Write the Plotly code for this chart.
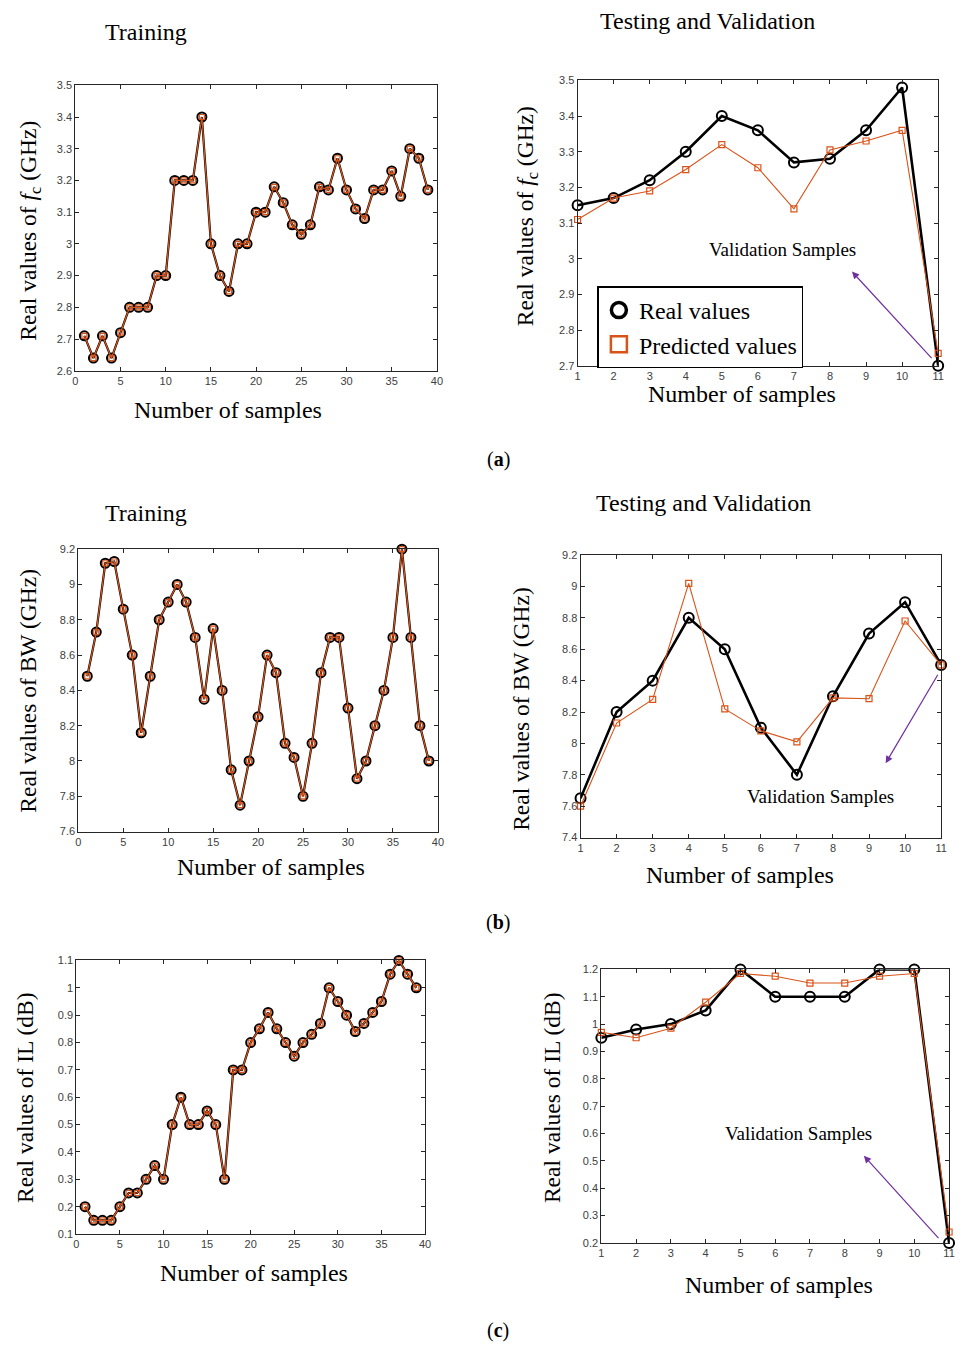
import plotly.graph_objects as go

W, H = 962, 1353

# ---------------- data ----------------
train_x = list(range(1, 40))
test_x = list(range(1, 12))

fc_train = [2.71, 2.64, 2.71, 2.64, 2.72, 2.80, 2.80, 2.80, 2.90, 2.90,
            3.20, 3.20, 3.20, 3.40, 3.00, 2.90, 2.85, 3.00, 3.00, 3.10,
            3.10, 3.18, 3.13, 3.06, 3.03, 3.06, 3.18, 3.17, 3.27, 3.17,
            3.11, 3.08, 3.17, 3.17, 3.23, 3.15, 3.30, 3.27, 3.17]
fc_test_real = [3.15, 3.17, 3.22, 3.30, 3.40, 3.36, 3.27, 3.28, 3.36, 3.48, 2.70]
fc_test_pred = [3.11, 3.17, 3.19, 3.25, 3.32, 3.255, 3.14, 3.305, 3.33, 3.36, 2.735]

bw_train = [8.48, 8.73, 9.12, 9.13, 8.86, 8.60, 8.16, 8.48, 8.80, 8.90,
            9.00, 8.90, 8.70, 8.35, 8.75, 8.40, 7.95, 7.75, 8.00, 8.25,
            8.60, 8.50, 8.10, 8.02, 7.80, 8.10, 8.50, 8.70, 8.70, 8.30,
            7.90, 8.00, 8.20, 8.40, 8.70, 9.20, 8.70, 8.20, 8.00]
bw_test_real = [7.65, 8.20, 8.40, 8.80, 8.60, 8.10, 7.80, 8.30, 8.70, 8.90, 8.50]
bw_test_pred = [7.60, 8.13, 8.28, 9.02, 8.22, 8.08, 8.01, 8.29, 8.285, 8.78, 8.50]

il_train = [0.20, 0.15, 0.15, 0.15, 0.20, 0.25, 0.25, 0.30, 0.35, 0.30,
            0.50, 0.60, 0.50, 0.50, 0.55, 0.50, 0.30, 0.70, 0.70, 0.80,
            0.85, 0.91, 0.85, 0.80, 0.75, 0.80, 0.83, 0.87, 1.00, 0.95,
            0.90, 0.84, 0.87, 0.91, 0.95, 1.05, 1.10, 1.05, 1.00]
il_test_real = [0.95, 0.98, 1.00, 1.05, 1.20, 1.10, 1.10, 1.10, 1.20, 1.20, 0.20]
il_test_pred = [0.97, 0.95, 0.985, 1.08, 1.185, 1.175, 1.15, 1.15, 1.175, 1.185, 0.24]

series_names = ["Real values", "Predicted values"]

# ---------------- style ----------------
BLACK = "#000000"
ORANGE = "#D95319"
PURPLE = "#7030A0"
SERIF = "Liberation Serif, Times New Roman, serif"
SANS = "Liberation Sans, Arial, sans-serif"


def px(x):
    return x / W


def py(y):
    return 1 - y / H


# panel boxes in pixels: (left, right, top, bottom)
boxes = [
    (73, 438, 80, 368),
    (580, 944, 75, 363),
    (76, 439, 548, 833),
    (583, 947, 554, 839),
    (74, 426, 963, 1239),
    (604, 955, 972, 1248),
]
xranges = [[0, 40], [1, 11], [0, 40], [1, 11], [0, 40], [1, 11]]
yranges = [[2.6, 3.5], [2.7, 3.5], [7.6, 9.2], [7.4, 9.2], [0.1, 1.1], [0.2, 1.2]]
ydticks = [0.1, 0.1, 0.2, 0.2, 0.1, 0.1]
xdticks = [5, 1, 5, 1, 5, 1]

fig = go.Figure()

datasets = [
    (train_x, fc_train, fc_train, True),
    (test_x, fc_test_real, fc_test_pred, False),
    (train_x, bw_train, bw_train, True),
    (test_x, bw_test_real, bw_test_pred, False),
    (train_x, il_train, il_train, True),
    (test_x, il_test_real, il_test_pred, False),
]

for i, (xs, real, pred, is_train) in enumerate(datasets):
    n = i + 1
    xa = "x" if n == 1 else f"x{n}"
    ya = "y" if n == 1 else f"y{n}"
    fig.add_trace(go.Scatter(
        x=xs, y=real, xaxis=xa, yaxis=ya, mode="lines+markers",
        name=series_names[0], legendgroup="real", showlegend=False,
        cliponaxis=False,
        line=dict(color=BLACK, width=2.2 if is_train else 2.6),
        marker=dict(symbol="circle-open", size=9 if is_train else 10,
                    color=BLACK, line=dict(width=2, color=BLACK)),
    ))
    fig.add_trace(go.Scatter(
        x=xs, y=pred, xaxis=xa, yaxis=ya, mode="lines+markers",
        name=series_names[1], legendgroup="pred", showlegend=False,
        cliponaxis=False,
        line=dict(color=ORANGE, width=1.2 if is_train else 1.1),
        marker=dict(symbol="square-open", size=5 if is_train else 6,
                    color=ORANGE, line=dict(width=1.2, color=ORANGE)),
    ))

# legend entries (marker-only, as in the reference legend)
fig.add_trace(go.Scatter(
    x=[None], y=[None], xaxis="x2", yaxis="y2", mode="markers",
    name=series_names[0], legendgroup="real", showlegend=True,
    marker=dict(symbol="circle-open", size=15, color=BLACK,
                line=dict(width=3.5, color=BLACK)),
))
fig.add_trace(go.Scatter(
    x=[None], y=[None], xaxis="x2", yaxis="y2", mode="markers",
    name=series_names[1], legendgroup="pred", showlegend=True,
    marker=dict(symbol="square-open", size=16, color=ORANGE,
                line=dict(width=2.5, color=ORANGE)),
))

layout = dict(
    width=W, height=H,
    margin=dict(l=0, r=0, t=0, b=0),
    paper_bgcolor="white", plot_bgcolor="white",
    showlegend=True,
    legend=dict(
        x=px(600), y=py(283), xanchor="left", yanchor="top",
        bgcolor="white", bordercolor=BLACK, borderwidth=1.5,
        font=dict(family=SERIF, size=24, color=BLACK),
        itemsizing="trace", tracegroupgap=0, itemwidth=30,
    ),
)

for i, (l, r, t, b) in enumerate(boxes):
    n = i + 1
    xk = "xaxis" if n == 1 else f"xaxis{n}"
    yk = "yaxis" if n == 1 else f"yaxis{n}"
    ycross = "y" if n == 1 else f"y{n}"
    xcross = "x" if n == 1 else f"x{n}"
    common = dict(
        showline=True, linecolor="#262626", linewidth=1, mirror="allticks",
        ticks="inside", ticklen=4, tickcolor="#262626", showgrid=False,
        zeroline=False, tickfont=dict(family=SANS, size=11, color="#404040"),
        fixedrange=True,
    )
    layout[xk] = dict(domain=[px(l), px(r)], range=xranges[i], dtick=xdticks[i],
                      tick0=0, anchor=ycross, **common)
    layout[yk] = dict(domain=[py(b), py(t)], range=yranges[i], dtick=ydticks[i],
                      tick0=0, anchor=xcross, **common)

fig.update_layout(**layout)

annotations = []


def text(x, y, s, size, family=SERIF, angle=0):
    annotations.append(dict(
        x=px(x), y=py(y), xref="paper", yref="paper", text=s, showarrow=False,
        xanchor="center", yanchor="middle", textangle=angle,
        font=dict(family=family, size=size, color=BLACK),
    ))


# titles
text(144, 26, "Training", 24)
text(711, 15, "Testing and Validation", 24)
text(144, 512, "Training", 24)
text(707, 501, "Testing and Validation", 24)

# x-axis titles
text(227, 408, "Number of samples", 24)
text(746, 391, "Number of samples", 24)
text(271, 869, "Number of samples", 24)
text(744, 877, "Number of samples", 24)
text(253, 1278, "Number of samples", 24)
text(783, 1290, "Number of samples", 24)

# y-axis titles
fc_title = "Real values of <i>f</i><sub>c</sub> (GHz)"
text(27, 227, fc_title, 23.5, angle=-90)
text(529, 212, fc_title, 23.5, angle=-90)
text(25, 691, "Real values of BW (GHz)", 23.5, angle=-90)
text(523, 709, "Real values of BW (GHz)", 23.5, angle=-90)
text(22, 1101, "Real values of IL (dB)", 23.5, angle=-90)
text(554, 1101, "Real values of IL (dB)", 23.5, angle=-90)

# validation labels
text(787, 246, "Validation Samples", 19)
text(825, 798, "Validation Samples", 19)
text(803, 1138, "Validation Samples", 19)

# panel labels
text(500, 458, "(<b>a</b>)", 20)
text(500, 925, "(<b>b</b>)", 20)
text(500, 1336, "(<b>c</b>)", 20)


def arrow(hx, hy, tx, ty):
    annotations.append(dict(
        x=px(hx), y=py(hy), ax=tx - hx, ay=ty - hy,
        xref="paper", yref="paper", axref="pixel", ayref="pixel",
        showarrow=True, arrowhead=2, arrowsize=1.2, arrowwidth=1.2,
        arrowcolor=PURPLE, text="",
    ))


arrow(857, 268, 938, 356)
arrow(891, 764, 944, 674)
arrow(869, 1160, 945, 1244)

fig.update_layout(annotations=annotations)

fig.write_html("out.html")
